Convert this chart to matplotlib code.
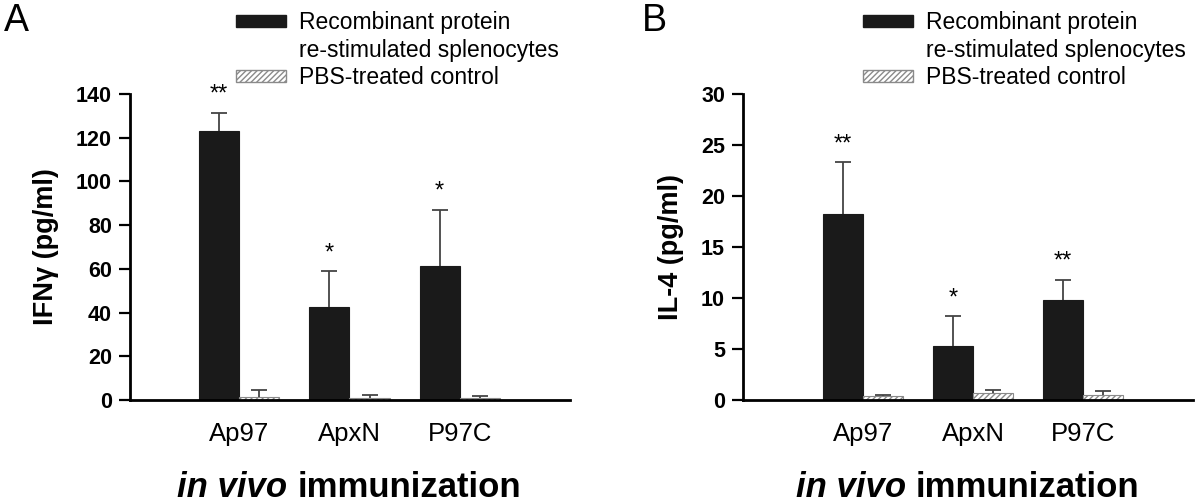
import numpy as np
import matplotlib
matplotlib.use("Agg")
import matplotlib.pyplot as plt
from matplotlib.patches import Patch

plt.rcParams['font.family'] = ['Liberation Sans', 'DejaVu Sans']
plt.rcParams['hatch.linewidth'] = 1.0

groups = ['Ap97', 'ApxN', 'P97C']

# panel A: IFN-gamma (pg/ml)
ifn_rec = [123, 42.5, 61.5]
ifn_rec_err = [8.5, 16.5, 25.5]
ifn_pbs = [1.2, 1.0, 0.8]
ifn_pbs_err = [3.3, 1.5, 1.2]
ifn_stars = ['**', '*', '*']

# panel B: IL-4 (pg/ml)
il4_rec = [18.2, 5.3, 9.8]
il4_rec_err = [5.1, 2.9, 2.0]
il4_pbs = [0.35, 0.7, 0.5]
il4_pbs_err = [0.15, 0.3, 0.35]
il4_stars = ['**', '*', '**']

rec_label = 'Recombinant protein'
rec_label2 = 're-stimulated splenocytes'
pbs_label = 'PBS-treated control'

fig = plt.figure(figsize=(12, 5.04), dpi=100)
axA = fig.add_axes([0.1083, 0.2063, 0.3667, 0.6071])
axB = fig.add_axes([0.6192, 0.2063, 0.375, 0.6071])

w = 0.364
x = np.arange(1, 4)


def upper_err(ax, xs, vals, errs):
    eb = ax.errorbar(xs, vals, yerr=[np.zeros(3), errs], fmt='none',
                     ecolor='#444444', elinewidth=1.3, capsize=6, capthick=1.3)
    # hide the lower caps (zero-length side)
    eb[1][0].set_visible(False)


def panel(ax, rec, rec_err, pbs, pbs_err, stars, ymax, step, ylabel, xleft):
    ax.bar(x - w / 2, rec, w, color='#1a1a1a', edgecolor='#1a1a1a', linewidth=0.8)
    ax.bar(x + w / 2, pbs, w, color='white', edgecolor='#8a8a8a', hatch='//////', linewidth=0.8)
    upper_err(ax, x - w / 2, rec, rec_err)
    upper_err(ax, x + w / 2, pbs, pbs_err)
    for xi, v, e, s in zip(x - w / 2, rec, rec_err, stars):
        ax.annotate(s, (xi, v + e), xytext=(0, 5), textcoords='offset points',
                    ha='center', va='bottom', fontsize=17)
    ax.set_xlim(xleft, 4.0)
    ax.set_ylim(0, ymax)
    ax.set_yticks(np.arange(0, ymax + 0.1, step))
    ax.set_xticks(x)
    ax.set_xticklabels(groups, fontsize=18.5)
    for t in ax.get_yticklabels():
        t.set_fontsize(15.5)
        t.set_fontweight('bold')
    ax.tick_params(axis='x', length=0, pad=16)
    ax.tick_params(axis='y', length=8, width=1.6, direction='out', pad=5)
    for sp in ['top', 'right']:
        ax.spines[sp].set_visible(False)
    for sp in ['left', 'bottom']:
        ax.spines[sp].set_linewidth(2)
    ax.set_ylabel(ylabel, fontsize=19.5, fontweight='bold', labelpad=12)
    # x label: italic "in vivo" + bold "immunization"
    ax.annotate('in vivo ', (0.5, -0.317), xycoords='axes fraction', ha='right', va='baseline',
                fontsize=25, fontweight='bold', style='italic', xytext=(-38, 0),
                textcoords='offset points')
    ax.annotate('immunization', (0.5, -0.317), xycoords='axes fraction', ha='left', va='baseline',
                fontsize=25, fontweight='bold', xytext=(-38, 0),
                textcoords='offset points')


panel(axA, ifn_rec, ifn_rec_err, ifn_pbs, ifn_pbs_err, ifn_stars, 140, 20,
      'IFN\u03b3 (pg/ml)', 0.01)
panel(axB, il4_rec, il4_rec_err, il4_pbs, il4_pbs_err, il4_stars, 30, 5,
      'IL-4 (pg/ml)', -0.09)

handles = [Patch(facecolor='#1a1a1a', edgecolor='#1a1a1a'),
           Patch(facecolor='none', edgecolor='none'),
           Patch(facecolor='white', edgecolor='#8a8a8a', hatch='//////')]
labels = [rec_label, rec_label2, pbs_label]

for xa in [236 / 1200, 863 / 1200]:
    fig.legend(handles, labels, loc='upper left', bbox_to_anchor=(xa, 1 - 11 / 504),
               frameon=False, fontsize=16.5, handlelength=2.2, handleheight=0.45,
               handletextpad=0.55, labelspacing=0.2, borderpad=0, borderaxespad=0)

fig.text(0.003, 0.995, 'A', fontsize=27, va='top', ha='left')
fig.text(0.535, 0.995, 'B', fontsize=27, va='top', ha='left')

fig.savefig('out.png', dpi=100)
